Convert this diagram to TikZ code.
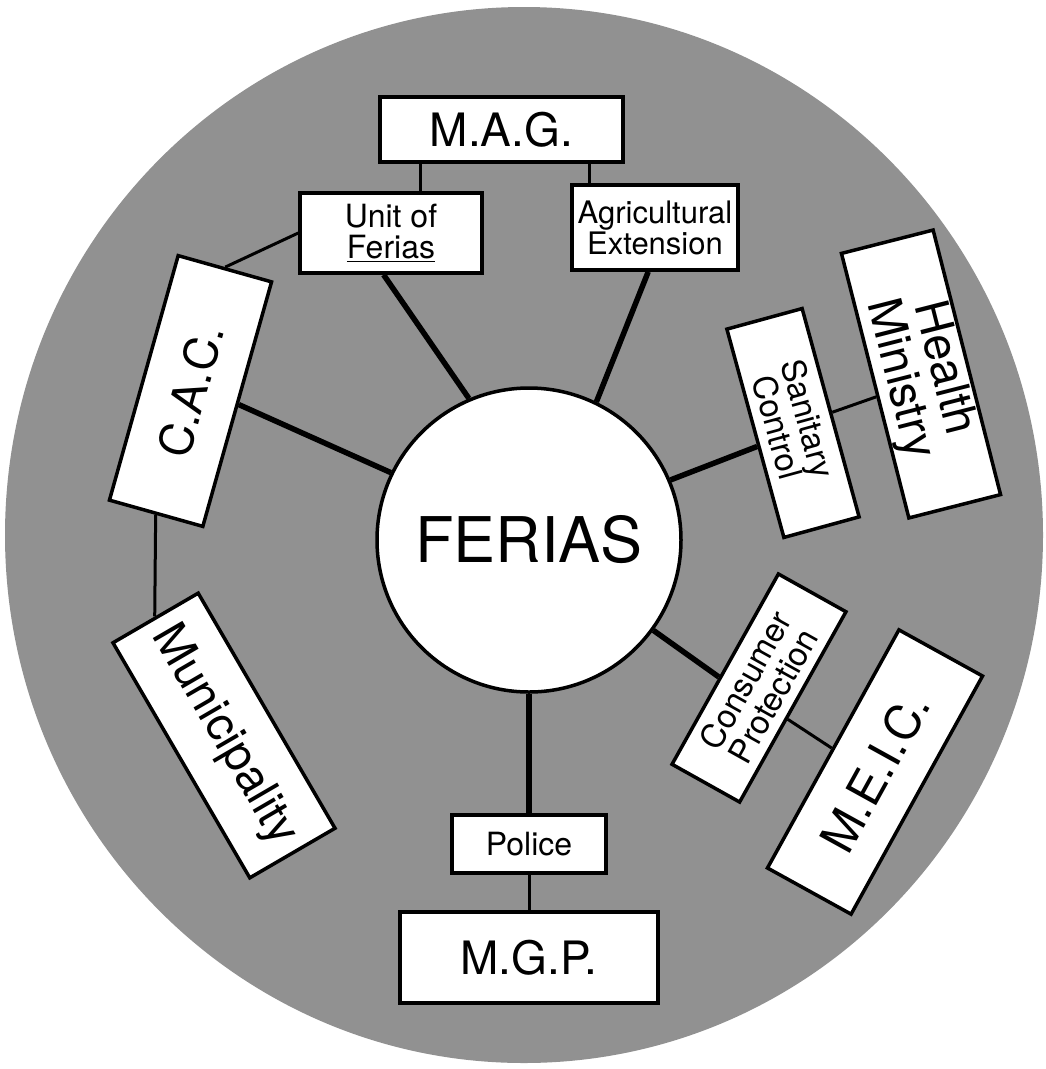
\documentclass[tikz,border=0pt]{standalone}
\usepackage{fontspec}
\setmainfont{TeX Gyre Heros}
\usetikzlibrary{calc}
\begin{document}
\begin{tikzpicture}[x=1pt,y=-1pt,
  box/.style={draw=black,line width=3.5pt,fill=white,inner sep=0pt,align=center},
  thicklink/.style={line width=5.5pt},
  thinlink/.style={line width=3pt},
  big/.style={font=\fontsize{46}{46}\selectfont},
  small/.style={font=\fontsize{32}{31}\selectfont}]
\useasboundingbox (0,0) rectangle (1045,1069);
\fill[black!43] (524,535) ellipse [x radius=519, y radius=528];

\node[box,circle,minimum size=304pt,font=\fontsize{63}{63}\selectfont] (ferias) at (529,540) {FERIAS};

\node[box,big,minimum width=243pt,minimum height=65pt] (mag) at (501.5,129.5) {M.A.G.};
\node[box,small,minimum width=182pt,minimum height=80pt] (unit) at (391,233) {Unit of\\\underline{Ferias}};
\node[box,font=\fontsize{31}{31}\selectfont,minimum width=166pt,minimum height=85pt] (agri) at (655,227.5) {Agricultural\\Extension};
\node[box,small,minimum width=154pt,minimum height=58pt] (police) at (529,844) {Police};
\node[box,big,minimum width=258pt,minimum height=91pt] (mgp) at (529,957.5) {M.G.P.};

\node[box,big,minimum width=254pt,minimum height=97pt,rotate=74.3] (cac) at (190.5,391) {C.A.C.};
\node[box,font=\fontsize{47}{47}\selectfont,minimum width=272pt,minimum height=98.6pt,rotate=-59.8] (mun) at (224,735.5) {Municipality};
\node[box,font=\fontsize{33}{32}\selectfont,minimum width=216pt,minimum height=78pt,rotate=-74.7] (san) at (793,423) {Sanitary\\Control};
\node[box,font=\fontsize{47}{45}\selectfont,minimum width=273pt,minimum height=94.6pt,rotate=-75.7] (hm) at (921,374) {Health\\Ministry};
\node[box,font=\fontsize{33}{32}\selectfont,minimum width=218pt,minimum height=77.4pt,rotate=60.8] (cp) at (759,688) {Consumer\\Protection};
\node[box,font=\fontsize{48}{48}\selectfont,minimum width=272pt,minimum height=95.5pt,rotate=61.1] (meic) at (875,772) {M.E.I.C.};

% connectors
\coordinate (uA) at ($(unit.north west)!0.66!(unit.north east)$);
\coordinate (aA) at ($(agri.north west)!0.115!(agri.north east)$);
\draw[thinlink] (uA) -- (uA |- mag.south);
\draw[thinlink] (aA) -- (aA |- mag.south);

\coordinate (uB) at ($(unit.south west)!0.46!(unit.south east)$);
\coordinate (aB) at ($(agri.south west)!0.46!(agri.south east)$);
\draw[thicklink] (uB) -- (ferias.113);
\draw[thicklink] (aB) -- (ferias.64);

\draw[thinlink] (unit.west) -- (cac.east);
\draw[thicklink] (cac.south) -- (ferias.154);
\draw[thinlink] (cac.west) -- (mun.west);

\draw[thicklink] ($(san.south)!0.12!(san.south east)$) -- (ferias.23);
\draw[thinlink] (san.north) -- ($(hm.south)!0.08!(hm.south east)$);

\draw[thicklink] ($(cp.north)!0.09!(cp.north west)$) -- (ferias.-36.6);
\draw[thinlink] ($(cp.south)!0.12!(cp.south west)$) -- (meic.north);

\draw[thicklink] (ferias.south) -- (police.north);
\draw[thinlink] (police.south) -- (police.south |- mgp.north);
\end{tikzpicture}
\end{document}
